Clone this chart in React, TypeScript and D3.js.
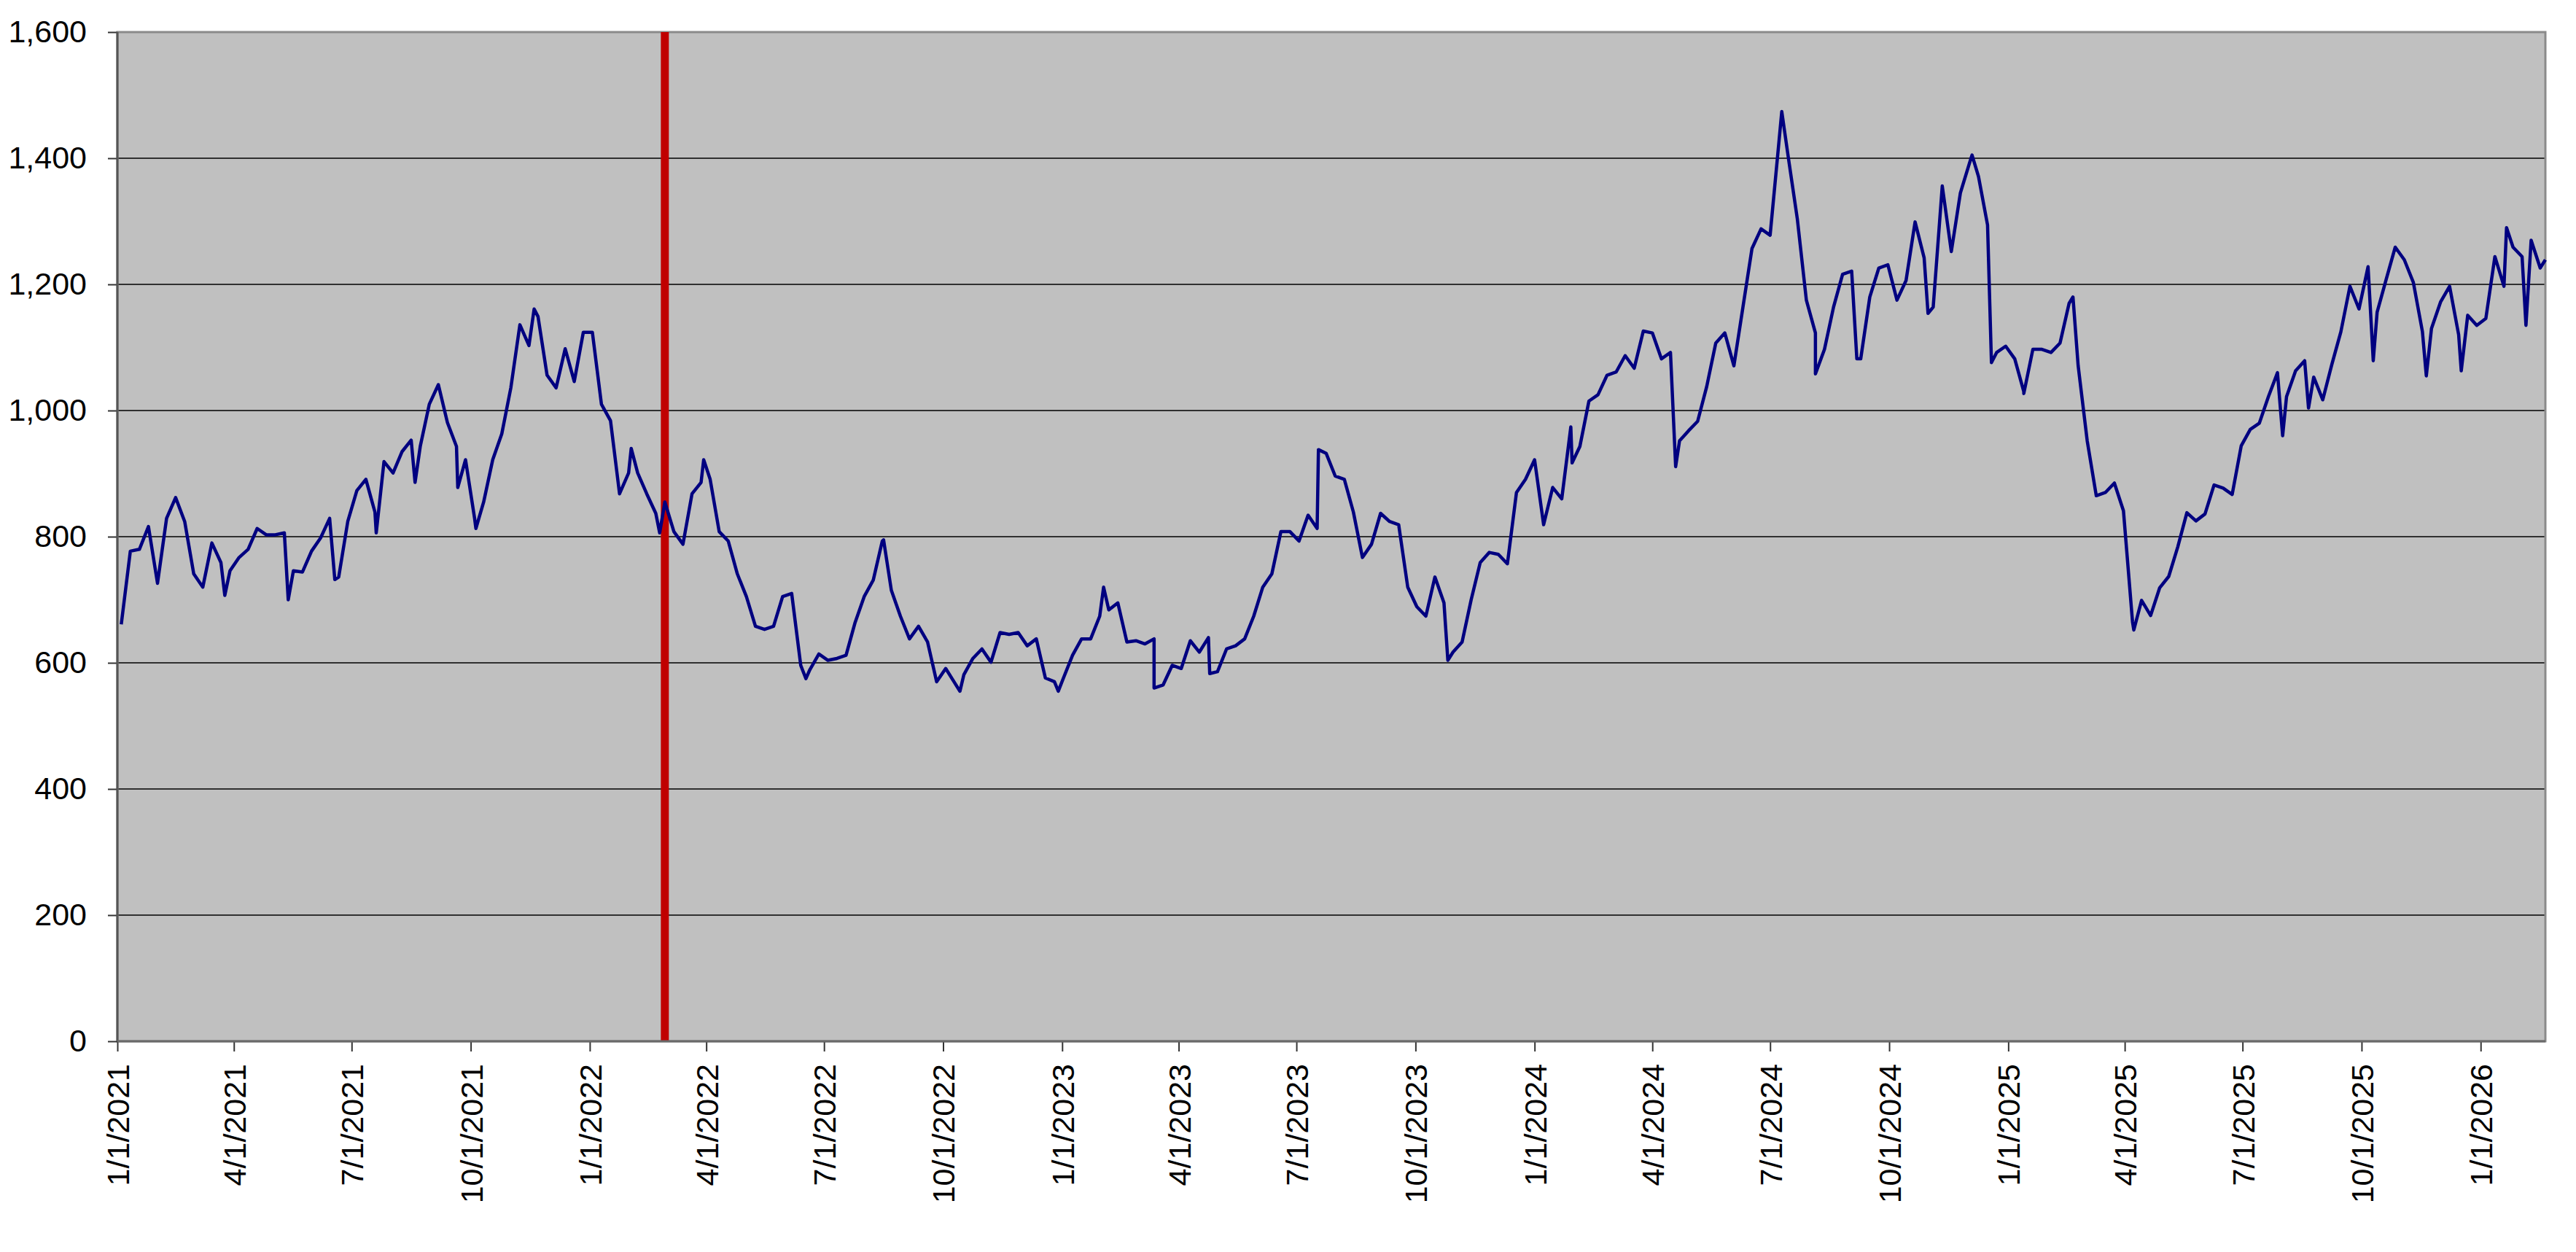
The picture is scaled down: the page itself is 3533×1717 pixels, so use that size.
import React, { useEffect, useRef } from 'react';
import * as d3 from 'd3';

// Weekly closes, first value on Mon 1/4/2021, one value every 7 days
const startDate = new Date(2021, 0, 4);

const weekly2021 = [
  661, 777, 780, 816, 726, 829, 862, 824, 741, 720,
  790, 759, 746, 767, 780, 813, 803, 803, 806, 746,
  744, 777, 798, 829, 736, 824, 873, 891, 839, 919,
  901, 935, 953, 943, 1010, 1041, 981, 943, 922, 829,
  855, 922, 963, 1036, 1136, 1103, 1149, 1056, 1036, 1098,
  1046, 1124,
];

const weekly2022 = [
  1124, 1010, 984, 868, 901, 901, 868, 837, 855, 808,
  788, 868, 886, 891, 808, 793, 741, 705, 658, 653,
  658, 705, 710, 596, 589, 614, 604, 607, 612, 664,
  705, 731, 793, 715, 674, 638, 658, 633, 570, 591,
  568, 581, 607, 622, 601, 648, 645, 648, 627, 638,
  576, 570,
];

const weekly2023 = [
  576, 612, 638, 638, 674, 684, 695, 633, 635, 630,
  638, 565, 596, 591, 635, 617, 640, 586, 622, 627,
  638, 674, 720, 741, 808, 808, 793, 834, 813, 932,
  896, 891, 839, 767, 788, 837, 824, 819, 720, 689,
  674, 736, 695, 617, 633, 700, 759, 775, 772, 757,
  870, 891,
];

const weekly2024 = [
  922, 819, 878, 860, 974, 943, 1015, 1025, 1056, 1061,
  1087, 1067, 1126, 1123, 1082, 1092, 952, 968, 983, 1038,
  1107, 1123, 1071, 1164, 1257, 1288, 1278, 1430, 1402, 1304,
  1175, 1123, 1097, 1164, 1216, 1221, 1082, 1180, 1226, 1231,
  1175, 1206, 1299, 1242, 1164, 1356, 1252, 1345, 1392, 1371,
  1294, 1092, 1102,
];

const weekly2025 = [
  1082, 1030, 1097, 1097, 1092, 1107, 1170, 1071, 952, 865,
  870, 885, 841, 665, 699, 675, 719, 737, 784, 838,
  825, 836, 882, 877, 867, 944, 970, 980, 1022, 1060,
  1022, 1063, 1079, 1053, 1017, 1073, 1125, 1197, 1161, 1228,
  1156, 1208, 1259, 1239, 1203, 1125, 1130, 1172, 1197, 1120,
  1151, 1135,
];

const weekly2026 = [1146, 1244, 1197, 1259, 1244, 1270, 1226];

const lastDate = new Date(2026, 1, 20);
const lastValue = 1239;

// single-day highs and lows between the weekly closes
const spikeDates = [
  '2021-03-25', '2021-05-13', '2021-06-18', '2021-07-20', '2021-08-19', '2021-09-21',
  '2021-10-05', '2021-11-19', '2022-02-02', '2022-02-24', '2022-03-30', '2022-06-17',
  '2022-08-16', '2022-10-14', '2022-12-29', '2023-02-02', '2023-03-13', '2023-04-25',
  '2023-07-18', '2023-10-26', '2024-01-30', '2024-04-19', '2024-07-10', '2024-08-05',
  '2024-09-06', '2024-10-31', '2024-12-04', '2024-12-19', '2025-01-13', '2025-02-20',
  '2025-04-08', '2025-08-01', '2025-08-21', '2025-10-10', '2025-11-20', '2025-12-17',
  '2026-01-21', '2026-02-05',
];
const spikeValues = [
  707, 700, 732, 806, 886, 878,
  813, 1161, 940, 806, 922, 575,
  795, 555, 555, 720, 560, 583,
  938, 604, 917, 911, 1474, 1058,
  1082, 1154, 1405, 1076, 1027, 1180,
  652, 960, 1004, 1079, 1055, 1063,
  1290, 1135,
];

const eventDate = new Date(2022, 1, 28);

const yTicks = [0, 200, 400, 600, 800, 1000, 1200, 1400, 1600];
const axisStart = new Date(2021, 0, 1);
const lastTickDate = new Date(2026, 0, 1);

const App: React.FC = () => {
  const ref = useRef<SVGSVGElement | null>(null);

  useEffect(() => {
    const svg = d3.select(ref.current);
    svg.selectAll('*').remove();

    const width = 3533;
    const height = 1717;
    const left = 161;
    const right = 3491;
    const top = 44;
    const bottom = 1428;
    const font = "'Liberation Sans', Arial, sans-serif";

    const parse = d3.timeParse('%Y-%m-%d');
    const weekly = [...weekly2021, ...weekly2022, ...weekly2023, ...weekly2024, ...weekly2025, ...weekly2026];
    const data = weekly.map((v, i) => ({ date: d3.timeDay.offset(startDate, i * 7), value: v }));
    spikeDates.forEach((s, i) => data.push({ date: parse(s)!, value: spikeValues[i] }));
    data.push({ date: lastDate, value: lastValue });
    data.sort((a, b) => a.date.getTime() - b.date.getTime());

    const x = d3.scaleTime().domain([axisStart, lastDate]).range([left, right]);
    const y = d3.scaleLinear().domain([0, 1600]).range([bottom, top]);

    svg.attr('width', width).attr('height', height);
    svg.append('rect').attr('width', width).attr('height', height).attr('fill', '#ffffff');

    // plot area
    svg
      .append('rect')
      .attr('x', left)
      .attr('y', top)
      .attr('width', right - left)
      .attr('height', bottom - top)
      .attr('fill', '#c0c0c0');

    // gridlines
    svg
      .append('g')
      .selectAll('line')
      .data(yTicks.filter((t) => t > 0 && t < 1600))
      .enter()
      .append('line')
      .attr('x1', left)
      .attr('x2', right)
      .attr('y1', (d) => y(d))
      .attr('y2', (d) => y(d))
      .attr('stroke', '#000')
      .attr('stroke-width', 1.5);

    // border
    svg
      .append('rect')
      .attr('x', left)
      .attr('y', top)
      .attr('width', right - left)
      .attr('height', bottom - top)
      .attr('fill', 'none')
      .attr('stroke', '#8a8a8a')
      .attr('stroke-width', 3);

    // red event line
    svg
      .append('line')
      .attr('x1', x(eventDate))
      .attr('x2', x(eventDate))
      .attr('y1', y(1600))
      .attr('y2', y(0))
      .attr('stroke', '#c00000')
      .attr('stroke-width', 11);

    // series
    const line = d3
      .line<{ date: Date; value: number }>()
      .x((d) => x(d.date))
      .y((d) => y(d.value));

    svg
      .append('path')
      .datum(data)
      .attr('d', line)
      .attr('fill', 'none')
      .attr('stroke', '#000080')
      .attr('stroke-width', 4.5)
      .attr('stroke-linejoin', 'round');

    // y axis
    const yAxis = d3
      .axisLeft(y)
      .tickValues(yTicks)
      .tickSize(13)
      .tickPadding(29)
      .tickFormat((d) => d3.format(',')(d as number));

    const gy = svg.append('g').attr('transform', `translate(${left},0)`).call(yAxis);
    gy.select('.domain').remove();
    gy.selectAll('line').attr('stroke', '#333').attr('stroke-width', 2);
    gy.selectAll('text').style('font-family', font).style('font-size', '43px').attr('fill', '#000');

    // x axis
    const xTicks = d3.timeMonth.every(3)!.range(axisStart, d3.timeDay.offset(lastTickDate, 1));
    const xAxis = d3
      .axisBottom(x)
      .tickValues(xTicks)
      .tickSize(14)
      .tickFormat((d) => {
        const dt = d as Date;
        return `${dt.getMonth() + 1}/${dt.getDate()}/${dt.getFullYear()}`;
      });

    const gx = svg.append('g').attr('transform', `translate(0,${bottom})`).call(xAxis);
    gx.select('.domain').remove();
    gx.selectAll('line').attr('stroke', '#333').attr('stroke-width', 2);
    gx.selectAll('text')
      .attr('transform', 'rotate(-90)')
      .attr('x', -31)
      .attr('y', 0)
      .attr('dy', '0.36em')
      .style('text-anchor', 'end')
      .style('font-family', font)
      .style('font-size', '43px')
      .attr('fill', '#000');

    // axis lines
    svg
      .append('line')
      .attr('x1', left)
      .attr('x2', left)
      .attr('y1', top)
      .attr('y2', bottom)
      .attr('stroke', '#555')
      .attr('stroke-width', 3);
    svg
      .append('line')
      .attr('x1', left)
      .attr('x2', right)
      .attr('y1', bottom)
      .attr('y2', bottom)
      .attr('stroke', '#6a6a6a')
      .attr('stroke-width', 3);
  }, []);

  return <svg ref={ref} style={{ position: 'absolute', left: 0, top: 0, display: 'block' }}></svg>;
};

export default App;
